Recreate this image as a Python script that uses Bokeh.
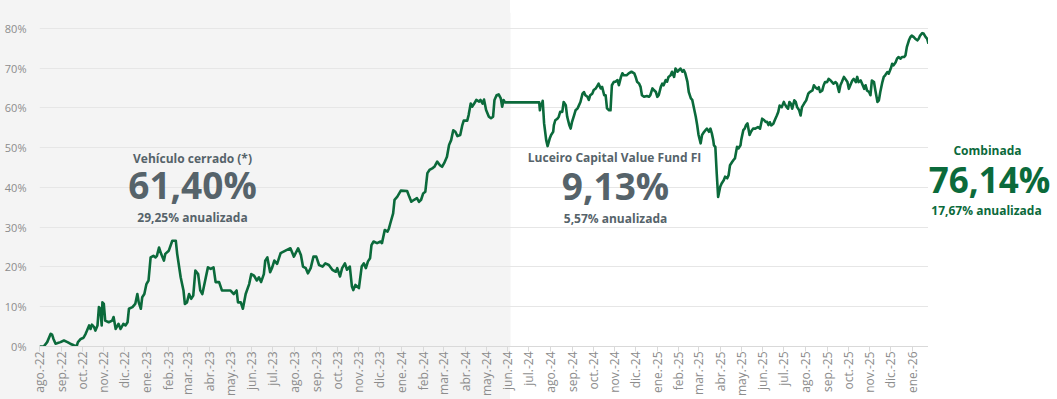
import math
import numpy as np
import pandas as pd
from bokeh.plotting import figure
from bokeh.layouts import row
from bokeh.models import BoxAnnotation, Label, FixedTicker, NumeralTickFormatter, Range1d
from bokeh.embed import file_html
from bokeh.resources import INLINE

# ---------------- data ----------------
start_date = "2022-08-01"
end_date = "2026-01-24"
vehicle_end = "2024-06-05"

# Vehículo cerrado: days since start_date, cumulative return in %
vehiculo_dias = [0, 6, 11, 16, 18, 20, 23, 25, 30, 35, 40, 44, 49, 53, 55, 59, 63, 66, 68, 71, 73, 75, 78, 80, 83,
                 85, 87, 89, 90, 92, 94, 99, 104, 106, 109, 113, 116, 120, 123, 126, 128, 133, 137, 140, 142, 145,
                 147, 150, 153, 156, 159, 163, 166, 168, 171, 174, 178, 180, 185, 190, 195, 197, 202, 206, 208, 211,
                 214, 217, 220, 223, 227, 230, 233, 238, 241, 245, 249, 252, 257, 261, 269, 273, 278, 282, 284, 288,
                 291, 295, 300, 303, 307, 311, 314, 317, 321, 323, 326, 330, 333, 336, 340, 343,
                 345, 354, 359, 364, 370, 374, 377, 381, 384, 388, 392, 396, 400, 405, 409, 414, 419, 424, 426, 430,
                 433, 437, 440, 444, 447, 449, 452, 457, 461, 464, 467, 470, 473, 475, 478, 483, 488, 490, 494, 498,
                 500, 502, 506, 508, 512, 517, 526, 529, 532, 536, 540, 543, 546, 549, 552, 555, 558, 562, 565, 569,
                 573, 576, 579, 583, 586, 589, 592, 595, 598, 602, 605, 607, 612, 614, 617, 619, 622, 625, 629, 631,
                 634, 636, 639, 643, 646, 649, 651, 654, 657, 660, 662, 664, 666]
vehiculo_pct = [0.0, 0.0, 1.1, 3.2, 3.0, 1.9, 0.7, 0.8, 1.1, 1.5, 1.1, 0.7, 0.3, 0.0, 1.1, 1.9, 2.2, 3.2, 4.0, 5.3,
                4.4, 5.5, 4.9, 4.0, 5.3, 9.9, 9.5, 5.3, 11.1, 10.7, 6.5, 6.1, 6.5, 7.4, 4.4, 5.7, 4.4, 5.7, 5.3, 6.1,
                9.5, 9.9, 10.7, 13.2, 11.1, 9.5, 12.4, 13.2, 15.7, 16.6, 22.4, 22.8, 22.4, 22.8, 24.9, 23.3, 21.6,
                23.3, 24.1, 26.6, 26.6, 23.3, 17.4, 14.1, 10.7, 11.1, 13.2, 12.0, 12.8, 19.1, 18.2, 14.1, 13.2, 17.4,
                19.9, 19.5, 19.9, 16.2, 16.2, 14.1, 14.1, 14.1, 13.2, 14.1, 11.1, 11.1, 9.5, 13.2, 15.7, 18.2, 17.8,
                16.6, 17.4, 16.2, 18.2, 21.6, 22.4, 18.7, 19.9, 21.6, 20.8, 22.4,
                23.5, 24.3, 24.7, 22.6, 24.7, 23.0, 20.1, 19.7, 18.4, 19.7, 22.6, 22.6, 20.5, 20.1, 20.9, 20.5, 19.3,
                18.8, 19.7, 17.6, 19.7, 20.9, 19.3, 20.1, 15.1, 14.2, 15.5, 14.7, 20.1, 20.9, 19.7, 21.4, 22.2, 25.5,
                26.4, 26.0, 26.4, 26.0, 29.3, 28.9, 29.7, 31.0, 33.5, 36.9, 37.7, 39.2, 39.1, 37.7, 36.4, 36.9, 37.3,
                36.4, 36.9, 38.5, 38.9, 43.6, 44.4, 44.8, 45.2, 46.5, 45.6, 45.2, 46.1, 47.7, 50.7, 51.9, 54.4, 54.0,
                52.9, 53.2, 55.7, 56.8, 56.8, 58.2, 61.1, 60.3, 61.1, 62.0, 61.6, 62.0, 61.1, 62.1, 59.5, 57.8, 57.4,
                57.8, 62.0, 63.2, 63.4, 62.4, 60.3, 62.0, 61.4]

# Luceiro Capital Value Fund FI (combined cumulative return in %)
fondo_dias = [688, 712, 715, 716, 717, 719, 720, 722, 725, 727, 730, 732, 735, 736, 738, 741, 743, 745, 748, 750,
              753, 755, 758, 760, 762, 765, 767, 770, 772, 774, 777, 779, 781, 784, 786, 788, 791, 793, 796, 798,
              800, 803, 805, 808, 810, 812, 815, 817, 819, 822, 824, 827, 829, 832, 834, 836, 840, 843, 847, 851,
              853, 855, 858, 860, 862, 865, 869, 872, 874, 877, 879, 882, 884, 886, 889, 891, 893, 896, 898, 900,
              903, 905, 908, 910, 913, 915, 917, 920, 922, 924, 927, 929, 932, 934, 936, 939, 941, 943, 946, 948,
              951, 953, 955, 958, 960, 962, 964, 965, 967, 969, 971, 974, 976, 979, 981, 984, 986, 988, 991, 993,
              995, 998, 1000, 1003, 1004, 1007, 1009, 1011, 1013, 1016, 1018, 1021, 1024, 1028, 1031, 1034, 1037,
              1039, 1041, 1043,
              1045, 1047, 1050, 1052, 1055, 1057, 1059, 1062, 1065, 1066, 1069, 1071, 1073, 1075, 1077, 1080, 1082,
              1084, 1087, 1089, 1091, 1094, 1097, 1100, 1102, 1106, 1108, 1110, 1113, 1115, 1117, 1120, 1122, 1124,
              1127, 1129, 1132, 1134, 1136, 1139, 1141, 1144, 1146, 1148, 1151, 1153, 1156, 1158, 1161, 1163, 1165,
              1168, 1170, 1172, 1175, 1177, 1180, 1182, 1184, 1187, 1189, 1191, 1194, 1196, 1199, 1201, 1203, 1206,
              1208, 1210, 1213, 1215, 1218, 1220, 1222, 1225, 1227, 1229, 1232, 1234, 1237, 1239, 1241, 1244, 1246,
              1248, 1251, 1253, 1256, 1258, 1260, 1263, 1265, 1268, 1270, 1272]
fondo_pct = [61.4, 61.4, 61.4, 59.4, 60.7, 61.1, 61.8, 56.1, 51.9, 50.4, 52.3, 53.2, 54.0, 55.7, 56.9, 57.3, 57.8,
             59.0, 59.0, 61.5, 60.7, 57.8, 55.7, 54.8, 56.5, 58.2, 59.4, 59.9, 60.7, 61.5, 63.6, 64.0, 63.2, 62.8,
             62.0, 63.2, 63.6, 64.5, 64.9, 65.5, 66.1, 64.9, 65.3, 63.2, 63.2, 59.9, 59.4, 59.4, 65.7, 66.6, 66.6,
             67.0, 65.7, 67.8, 68.7, 68.2, 68.2, 68.7, 69.1, 68.7, 67.8, 66.6, 66.1, 65.3, 63.2, 62.8, 63.0, 62.8,
             63.2, 64.9, 64.5, 64.0, 62.8, 63.2, 65.3, 66.1, 65.7, 67.0, 66.6, 67.8, 68.2, 69.1, 67.8, 69.9, 69.1,
             69.5, 69.9, 69.1, 69.5, 68.7, 66.6, 64.0, 62.4, 62.0, 60.3, 57.8, 55.7, 53.2, 51.1, 53.2, 54.0, 54.4,
             54.8, 54.0, 54.8, 53.6, 51.9, 50.6, 50.2, 43.5, 37.6, 40.2, 41.0, 41.8, 42.7, 42.3, 43.1, 45.6, 46.4,
             46.9, 47.3, 50.2, 49.8, 50.6, 51.9, 54.4, 54.8, 55.7, 56.1, 53.2, 54.0, 54.8, 54.8, 55.2, 54.8, 57.3,
             56.9, 56.5, 56.5, 55.7,
             56.4, 55.6, 56.0, 56.9, 58.1, 59.0, 60.6, 60.2, 61.5, 61.1, 60.2, 59.8, 61.5, 61.1, 59.8, 61.9, 61.5,
             60.2, 59.4, 58.1, 60.2, 61.1, 61.9, 63.6, 64.0, 64.4, 65.7, 65.2, 64.8, 65.2, 64.0, 64.4, 65.7, 66.5,
             66.5, 67.3, 66.9, 66.5, 66.1, 66.5, 66.1, 64.0, 65.7, 66.5, 67.8, 67.3, 66.5, 64.8, 66.1, 66.9, 67.3,
             66.5, 67.8, 66.5, 66.9, 66.1, 64.8, 65.7, 64.4, 64.0, 63.2, 66.9, 66.5, 64.4, 61.5, 61.9, 64.0, 66.5,
             67.8, 68.2, 69.0, 68.6, 69.9, 71.1, 70.7, 71.5, 72.4, 72.8, 72.4, 72.8, 72.8, 73.2, 75.3, 77.0, 77.8,
             78.2, 77.8, 77.4, 77.0, 77.4, 78.2, 78.8, 78.7, 77.8, 77.4, 76.14]

tick_labels = ["ago.-22", "sep.-22", "oct.-22", "nov.-22", "dic.-22",
               "ene.-23", "feb.-23", "mar.-23", "abr.-23", "may.-23", "jun.-23", "jul.-23", "ago.-23", "sep.-23",
               "oct.-23", "nov.-23", "dic.-23",
               "ene.-24", "feb.-24", "mar.-24", "abr.-24", "may.-24", "jun.-24", "jul.-24", "ago.-24", "sep.-24",
               "oct.-24", "nov.-24", "dic.-24",
               "ene.-25", "feb.-25", "mar.-25", "abr.-25", "may.-25", "jun.-25", "jul.-25", "ago.-25", "sep.-25",
               "oct.-25", "nov.-25", "dic.-25",
               "ene.-26"]

y_ticks = [0.0, 0.1, 0.2, 0.3, 0.4, 0.5, 0.6, 0.7, 0.8]

vehiculo_titulo = "Vehículo cerrado (*)"
vehiculo_total = "61,40%"
vehiculo_anual = "29,25% anualizada"
fondo_titulo = "Luceiro Capital Value Fund FI"
fondo_total = "9,13%"
fondo_anual = "5,57% anualizada"
comb_titulo = "Combinada"
comb_total = "76,14%"
comb_anual = "17,67% anualizada"

# ---------------- styles ----------------
GREEN = "#0b6a3b"
GRAY_TEXT = "#56636a"
AXIS_TEXT = "#8c8c8c"
GRID = "#e6e6e6"
SHADE = "#f4f4f4"
FONT = "Open Sans"

start = pd.Timestamp(start_date)
dates = start + pd.to_timedelta(np.array(vehiculo_dias + fondo_dias), unit="D")
yvals = np.array(vehiculo_pct + fondo_pct) / 100.0


def ms(ts):
    return float(pd.Timestamp(ts).value // 10**6)


H = 399
W_MAIN, W_SIDE = 928, 129
BORDER_LEFT, BORDER_TOP, BORDER_BOTTOM = 39, 12, 53

x_range = Range1d(ms(start_date), ms(end_date))
p = figure(width=W_MAIN, height=H, x_axis_type="datetime", output_backend="svg", toolbar_location=None,
           x_range=x_range, y_range=Range1d(0, 0.84),
           min_border_left=BORDER_LEFT, min_border_right=0, min_border_top=BORDER_TOP,
           min_border_bottom=BORDER_BOTTOM)
p.outline_line_color = None
# transparent canvas: the shaded band behind the closed-vehicle period is painted by the element's CSS
p.background_fill_color = None
p.border_fill_color = None
shade_px = BORDER_LEFT + (ms(vehicle_end) - ms(start_date)) / (ms(end_date) - ms(start_date)) * (W_MAIN - BORDER_LEFT)
p.styles = {"background": f"linear-gradient(to right, {SHADE} 0px, {SHADE} {shade_px:.1f}px, "
                          f"#ffffff {shade_px:.1f}px, #ffffff 100%)"}

shade = BoxAnnotation(right=ms(vehicle_end), fill_color=SHADE, fill_alpha=1.0, line_color=None, level="image")
p.add_layout(shade)

# grid
p.xgrid.visible = False
p.ygrid.ticker = FixedTicker(ticks=y_ticks)
p.ygrid.grid_line_color = GRID
p.ygrid.grid_line_width = 1

# y axis
p.yaxis.ticker = FixedTicker(ticks=y_ticks)
p.yaxis.formatter = NumeralTickFormatter(format="0%")
p.yaxis.axis_line_color = None
p.yaxis.major_tick_line_color = None
p.yaxis.minor_tick_line_color = None
p.yaxis.major_label_standoff = 7
p.yaxis.major_label_text_font = FONT
p.yaxis.major_label_text_font_size = "11px"
p.yaxis.major_label_text_color = AXIS_TEXT

# x axis
months = pd.date_range(start_date, periods=len(tick_labels), freq="MS")
ticks_ms = [ms(m) for m in months]
p.xaxis.ticker = FixedTicker(ticks=ticks_ms)
p.xaxis.major_label_overrides = {t: l for t, l in zip(ticks_ms, tick_labels)}
p.xaxis.major_label_orientation = math.pi / 2
p.xaxis.axis_line_color = "#d9d9d9"
p.xaxis.major_tick_line_color = "#d9d9d9"
p.xaxis.major_tick_out = 5
p.xaxis.major_tick_in = 0
p.xaxis.minor_tick_line_color = None
p.xaxis.major_label_standoff = 0
p.xaxis.major_label_text_font = FONT
p.xaxis.major_label_text_font_size = "12px"
p.xaxis.major_label_text_color = AXIS_TEXT

p.line(dates, yvals, line_color=GREEN, line_width=2.6, line_join="round")


def add_label(fig, text, sx, sy, size, color):
    fig.add_layout(Label(x=sx, y=sy, x_units="screen", y_units="screen", text=text,
                         text_align="center", text_baseline="alphabetic",
                         text_font=FONT, text_font_style="bold", text_font_size=size,
                         text_color=color))


add_label(p, vehiculo_titulo, 153, 188, "12px", GRAY_TEXT)
add_label(p, vehiculo_total, 153, 162, "37px", GRAY_TEXT)
add_label(p, vehiculo_anual, 153, 129, "12px", GRAY_TEXT)
add_label(p, fondo_titulo, 575, 189, "12px", GRAY_TEXT)
add_label(p, fondo_total, 576, 161, "37px", GRAY_TEXT)
add_label(p, fondo_anual, 576, 128, "12px", GRAY_TEXT)

# side panel with the combined result
q = figure(width=W_SIDE, height=H, output_backend="svg", toolbar_location=None,
           x_range=Range1d(0, 1), y_range=Range1d(0, 1),
           min_border_left=0, min_border_right=0, min_border_top=BORDER_TOP, min_border_bottom=BORDER_BOTTOM,
           x_axis_location=None, y_axis_location=None)
q.grid.visible = False
q.outline_line_color = None
q.background_fill_color = "white"
q.border_fill_color = "white"

add_label(q, comb_titulo, 59, 196, "12px", GREEN)
add_label(q, comb_total, 61, 167, "35px", GREEN)
add_label(q, comb_anual, 58, 136, "12px", GREEN)

layout = row(p, q, spacing=0)
open("out.html", "w").write(file_html(layout, INLINE))
